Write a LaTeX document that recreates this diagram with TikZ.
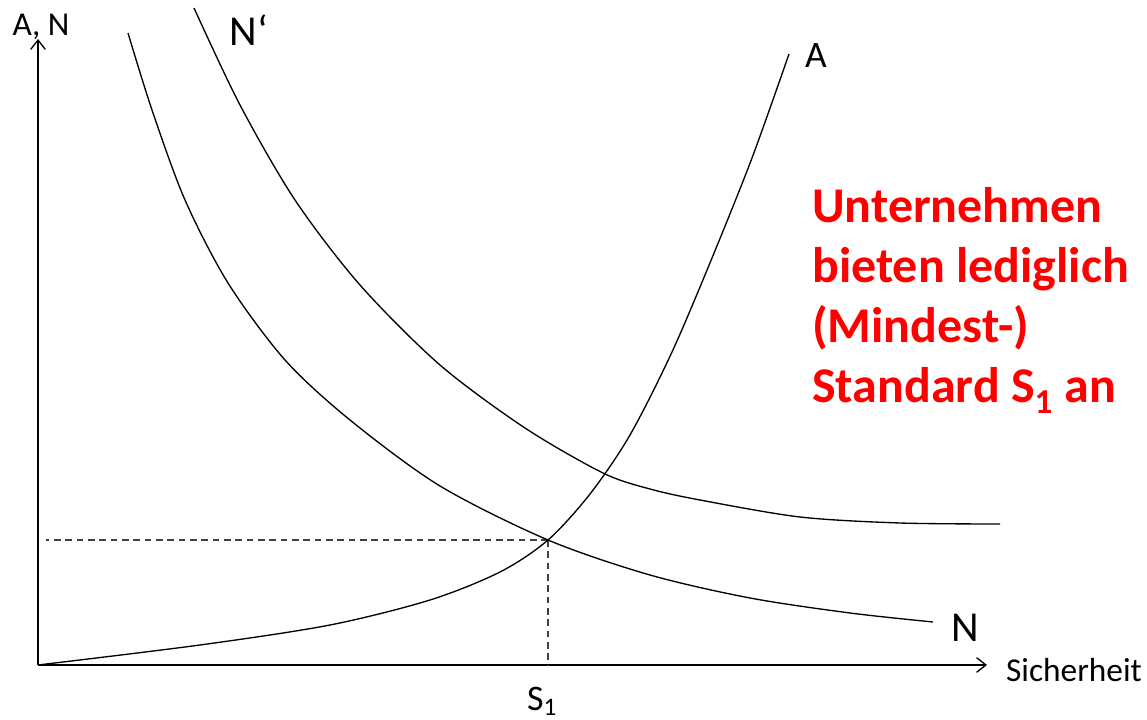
\documentclass[tikz,border=0pt]{standalone}
\usepackage{fontspec}
\setmainfont{Carlito}
\usetikzlibrary{arrows.meta}
\tikzset{
  axis/.style={line width=1.3pt,-{Straight Barb[length=7pt,width=11pt,line width=1pt]}},
  curve/.style={line width=1pt},
  guide/.style={line width=0.8pt,dash pattern=on 5pt off 3.5pt,black!75},
  axlabel/.style={font=\fontsize{25}{29}\selectfont},
  curvelabel/.style={font=\fontsize{32}{36}\selectfont},
  note/.style={text=red,align=left,inner sep=0pt,font=\fontsize{37.5}{45}\selectfont\bfseries}
}
\begin{document}
\begin{tikzpicture}[x=0.75pt,y=-0.75pt]
  \useasboundingbox (0,0) rectangle (1147,720);
  % axes
  \coordinate (O) at (38,665);
  \coordinate (ytip) at (38,39);
  \coordinate (xtip) at (987,665);
  \draw[axis] (O) -- (ytip);
  \draw[axis] (O) -- (xtip);
  % equilibrium S1
  \coordinate (E) at (548,540);
  \coordinate (Ey) at (46,540);
  \coordinate (Ex) at (548,665);
  \draw[guide] (E) -- (Ey);
  \draw[guide] (E) -- (Ex);
  % supply A
  \draw[curve] plot[smooth] coordinates {(38,665) (200,645) (330,625) (430,600) (500,572) (548,540) (590,494) (630,435) (672,352) (712,258) (752,158) (789,54)};
  % demand N
  \draw[curve] plot[smooth] coordinates {(128,33) (152,110) (185,200) (228,283) (285,360) (350,420) (440,486) (548,540) (650,575) (750,598) (850,613) (933,622)};
  % demand N'
  \draw[curve] plot[smooth] coordinates {(194,8) (240,105) (295,200) (360,285) (440,365) (525,428) (603,473) (650,489) (700,500) (800,517) (900,523) (1000,524)};
  % labels
  \node[axlabel] (ylab) at (41,27) {A, N};
  \node[axlabel] (xlab) at (1074,670) {Sicherheit};
  \node[axlabel,font=\fontsize{27}{30}\selectfont] (s1) at (542,701) {S\textsubscript{1}};
  \node[curvelabel] (labNp) at (249,30) {N‘};
  \node[axlabel,font=\fontsize{28}{32}\selectfont] (labA) at (816,56) {A};
  \node[curvelabel] (labN) at (965,628) {N};
  \node[note,anchor=north west] (msg) at (812,187) {Unternehmen\\bieten lediglich\\(Mindest-)\\Standard S\textsubscript{1} an};
\end{tikzpicture}
\end{document}
